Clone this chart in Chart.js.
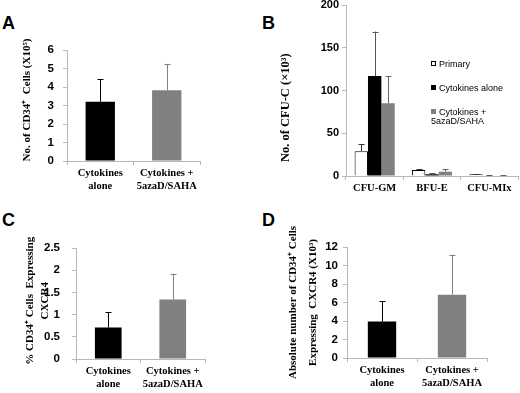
<!DOCTYPE html>
<html>
<head>
<meta charset="utf-8">
<script src="https://cdn.jsdelivr.net/npm/chart.js@4.4.0/dist/chart.umd.min.js"></script>
<style>
  body { margin: 0; background: #fff; }
  #wrap { position: relative; width: 520px; height: 393px; overflow: hidden; background: #fff; }
  canvas { position: absolute; }
  .letra { position: absolute; font: bold 18px "Liberation Sans", Arial, sans-serif; color: #000; }
  .ley { position: absolute; left: 431px; font: 9px "Liberation Sans", Arial, sans-serif; color: #000; line-height: 9px; }
  .ley i { display: inline-block; width: 5px; height: 5px; margin-right: 3px; box-sizing: border-box; vertical-align: 1px; }
</style>
</head>
<body>
<div id="wrap">
  <div class="letra" style="left:2px;top:13px">A</div>
  <div class="letra" style="left:262px;top:13px">B</div>
  <div class="letra" style="left:2px;top:210px">C</div>
  <div class="letra" style="left:262px;top:210px">D</div>

  <canvas id="graficaA" width="215" height="175" style="left:0;top:20px"></canvas>
  <canvas id="graficaB" width="260" height="205" style="left:260px;top:-10px"></canvas>
  <canvas id="graficaC" width="225" height="168" style="left:0;top:225px"></canvas>
  <canvas id="graficaD" width="260" height="168" style="left:260px;top:225px"></canvas>

  <div class="ley" style="top:60px"><i style="border:1px solid #000;background:#fff"></i>Primary</div>
  <div class="ley" style="top:84px"><i style="background:#000"></i>Cytokines alone</div>
  <div class="ley" style="top:108px"><i style="background:#808080"></i>Cytokines +<br>5azaD/SAHA</div>
</div>
<script>
// categorias comunes de A, C y D
let tratamientos = [["Cytokines", "alone"], ["Cytokines +", "5azaD/SAHA"]]

// A - numero de celulas CD34+ (x10^5)
let celulasA = [3.2, 3.82]
let errorA = [1.22, 1.43]
let ticksA = [0, 1, 2, 3, 4, 5, 6]

// B - colonias CFU-C (x10^3)
let coloniasB = ["CFU-GM", "BFU-E", "CFU-MIx"]
let primaryB = [29, 7, 2]
let primaryErrB = [8, 1.2, 0.3]
let aloneB = [117, 2, 0.6]
let aloneErrB = [52, 1.2, 0.4]
let azaB = [85, 5, 0.6]
let azaErrB = [32, 3.2, 0.5]
let ticksB = [0, 50, 100, 150, 200]

// C - % CD34+ que expresan CXCR4
let porcentajeC = [0.71, 1.34]
let errorC = [0.34, 0.58]
let ticksC = [0, 0.5, 1, 1.5, 2, 2.5]

// D - numero absoluto CD34+ CXCR4+ (x10^3)
let absolutoD = [3.95, 6.85]
let errorD = [2.2, 4.3]
let ticksD = [0, 2, 4, 6, 8, 10, 12]

const NEGRO = "#000000"
const GRIS = "#808080"
const EJE = "#b8b8b8"
const serif = "'Liberation Serif', 'Times New Roman', serif"
const sans = "'Liberation Sans', Arial, sans-serif"

// barras de error (solo hacia arriba), con la escala y de la grafica
const barrasError = {
    id: "barrasError",
    afterDatasetsDraw(chart) {
        let c = chart.ctx
        let escalaY = chart.scales.y
        chart.data.datasets.forEach(function (ds, i) {
            if (!ds.errores) return
            let meta = chart.getDatasetMeta(i)
            meta.data.forEach(function (barra, j) {
                let e = ds.errores[j]
                if (e == null) return
                let x = Math.round(barra.x) + 0.5
                let y0 = escalaY.getPixelForValue(ds.data[j])
                let y1 = escalaY.getPixelForValue(ds.data[j] + e)
                c.save()
                c.strokeStyle = Array.isArray(ds.colorError) ? ds.colorError[j] : ds.colorError
                c.lineWidth = 1
                c.beginPath()
                c.moveTo(x, y0)
                c.lineTo(x, y1)
                c.moveTo(x - 3, Math.round(y1) + 0.5)
                c.lineTo(x + 3, Math.round(y1) + 0.5)
                c.stroke()
                c.restore()
            })
        })
    }
}

function crearGrafica(id, cfg) {
    let valoresTicks = cfg.ticks
    return new Chart(document.getElementById(id), {
        type: "bar",
        data: { labels: cfg.etiquetas, datasets: cfg.series },
        options: {
            responsive: false,
            animation: false,
            layout: { padding: cfg.padding },
            plugins: { legend: { display: false }, tooltip: { enabled: false } },
            datasets: { bar: { categoryPercentage: cfg.catPct, barPercentage: cfg.barPct } },
            scales: {
                x: {
                    grid: { drawOnChartArea: false, color: EJE, tickLength: 4, offset: true },
                    border: { color: EJE },
                    ticks: {
                        color: "#000", padding: 2, autoSkip: false, maxRotation: 0,
                        font: { family: serif, weight: "bold", size: 10.5, lineHeight: 1.25 }
                    },
                    afterFit: function (s) { s.height = cfg.altoX }
                },
                y: {
                    min: valoresTicks[0],
                    max: valoresTicks[valoresTicks.length - 1],
                    afterBuildTicks: function (s) { s.ticks = valoresTicks.map(function (v) { return { value: v } }) },
                    grid: { drawOnChartArea: false, color: EJE, tickLength: 4 },
                    border: { color: EJE },
                    ticks: {
                        color: "#000", padding: cfg.padTicks,
                        font: { family: sans, weight: "bold", size: cfg.tamTicks },
                        callback: function (v) { return String(v) }
                    },
                    title: {
                        display: true,
                        text: cfg.titulo,
                        color: "#000",
                        padding: { top: cfg.padTitulo, bottom: 0 },
                        font: { family: serif, weight: "bold", size: cfg.tamTitulo, lineHeight: cfg.lhTitulo }
                    },
                    afterFit: function (s) { s.width = cfg.anchoY }
                }
            }
        },
        plugins: [barrasError]
    })
}

function serieSimple(valores, errores) {
    return [{
        data: valores,
        errores: errores,
        backgroundColor: [NEGRO, GRIS],
        borderWidth: 0,
        colorError: [NEGRO, GRIS]
    }]
}

// A
crearGrafica("graficaA", {
    etiquetas: tratamientos,
    series: serieSimple(celulasA, errorA),
    ticks: ticksA, tamTicks: 11.5, padTicks: 9,
    padding: { top: 30, right: 15, left: 0, bottom: 0 },
    altoX: 34, anchoY: 67,
    catPct: 0.9, barPct: 0.49,
    titulo: "    No. of CD34⁺  Cells (X10⁵)",
    padTitulo: 21, tamTitulo: 11, lhTitulo: 1.2
})

// B
crearGrafica("graficaB", {
    etiquetas: coloniasB,
    series: [
        { data: primaryB, errores: primaryErrB, backgroundColor: "#fff", borderColor: "#000", borderWidth: 1, colorError: "#333" },
        { data: aloneB, errores: aloneErrB, backgroundColor: NEGRO, borderWidth: 0, colorError: "#555" },
        { data: azaB, errores: azaErrB, backgroundColor: GRIS, borderWidth: 0, colorError: "#666" }
    ],
    ticks: ticksB, tamTicks: 11, padTicks: 3,
    padding: { top: 15, right: 2, left: 0, bottom: 0 },
    altoX: 19, anchoY: 86,
    catPct: 0.7, barPct: 1.0,
    titulo: "No. of CFU-C (×10³)           ",
    padTitulo: 18, tamTitulo: 12.5, lhTitulo: 1.2
})

// C
crearGrafica("graficaC", {
    etiquetas: tratamientos,
    series: serieSimple(porcentajeC, errorC),
    ticks: ticksC, tamTicks: 11.5, padTicks: 12,
    padding: { top: 23, right: 20, left: 0, bottom: 0 },
    altoX: 34, anchoY: 76,
    catPct: 0.9, barPct: 0.46,
    titulo: ["  % CD34⁺ Cells  Expressing", "  CXCR4"],
    padTitulo: 23, tamTitulo: 11, lhTitulo: 1.35
})

// D
crearGrafica("graficaD", {
    etiquetas: tratamientos,
    series: serieSimple(absolutoD, errorD),
    ticks: ticksD, tamTicks: 11.5, padTicks: 5,
    padding: { top: 22, right: 33, left: 0, bottom: 0 },
    altoX: 35, anchoY: 87,
    catPct: 0.9, barPct: 0.45,
    titulo: ["Absolute number of CD34⁺ Cells", "Expressing  CXCR4 (X10³)"],
    padTitulo: 23, tamTitulo: 11, lhTitulo: 1.8
})
</script>
</body>
</html>
